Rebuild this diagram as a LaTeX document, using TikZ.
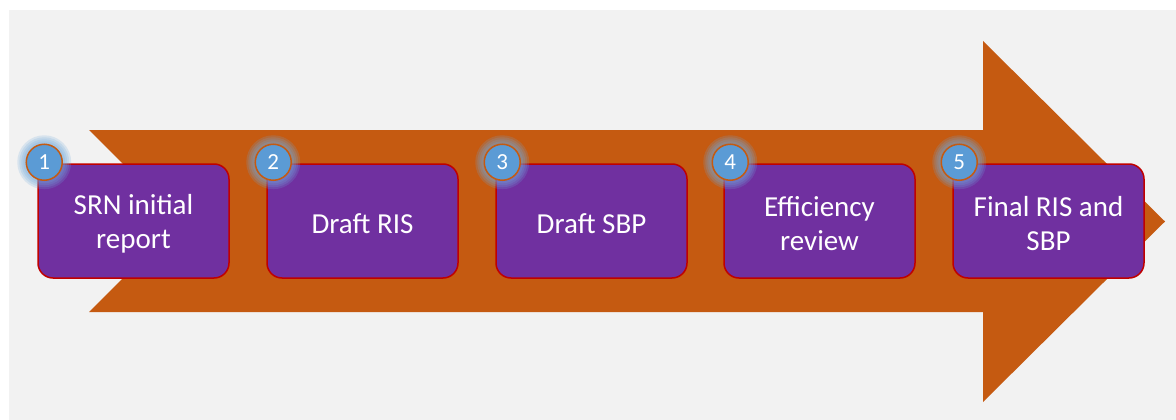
\documentclass[tikz,border=0pt]{standalone}
\usepackage{fontspec}
\setmainfont{Carlito}
\definecolor{bggray}{HTML}{F2F2F2}
\definecolor{arroworange}{HTML}{C55A11}
\definecolor{boxpurple}{HTML}{7030A0}
\definecolor{boxred}{HTML}{C00000}
\definecolor{numblue}{HTML}{5B9BD5}
\definecolor{glowblue}{HTML}{6FA8DC}
\tikzset{
  stepbox/.style={rounded corners=15pt, fill=boxpurple, draw=boxred, line width=1.5pt,
    minimum width=191pt, minimum height=114pt, inner sep=0pt},
  steptext/.style={text=white, align=center, font=\fontsize{29}{34}\selectfont, inner sep=0pt},
  numcircle/.style={circle, fill=numblue, draw=arroworange, line width=1.5pt,
    minimum size=36pt, inner sep=0pt, text=white, font=\fontsize{23}{23}\selectfont},
  glow/.style={fill=glowblue, opacity=0.2}
}
\begin{document}
\begin{tikzpicture}[x=1pt,y=-1pt]
\useasboundingbox (0,0) rectangle (1176,420);
\fill[white] (0,0) rectangle (1176,420);
\fill[bggray] (9,10) rectangle (1176,420);
\fill[arroworange] (89,130) -- (983,130) -- (983,41) -- (1165,221.5) -- (983,402) -- (983,312) -- (89,312) -- (180,221) -- cycle;
\foreach \i/\x/\t in {1/133.5/{SRN initial\\report}, 2/362.5/{Draft RIS}, 3/591.5/{Draft SBP}, 4/819.5/{Efficiency\\review}, 5/1048.5/{Final RIS and\\SBP}}{
  \node[stepbox] (box\i) at (\x,221) {};
  \node[steptext] (txt\i) at ([yshift=-2.5pt]box\i.center) {\t};
}
\foreach \i in {1,...,5}{
  \coordinate (c\i) at ([xshift=7pt,yshift=1pt]box\i.north west);
  \foreach \r in {27,25,23,21}{ \fill[glow] (c\i) circle (\r pt); }
  \node[numcircle] (n\i) at (c\i) {\i};
}
\end{tikzpicture}
\end{document}
